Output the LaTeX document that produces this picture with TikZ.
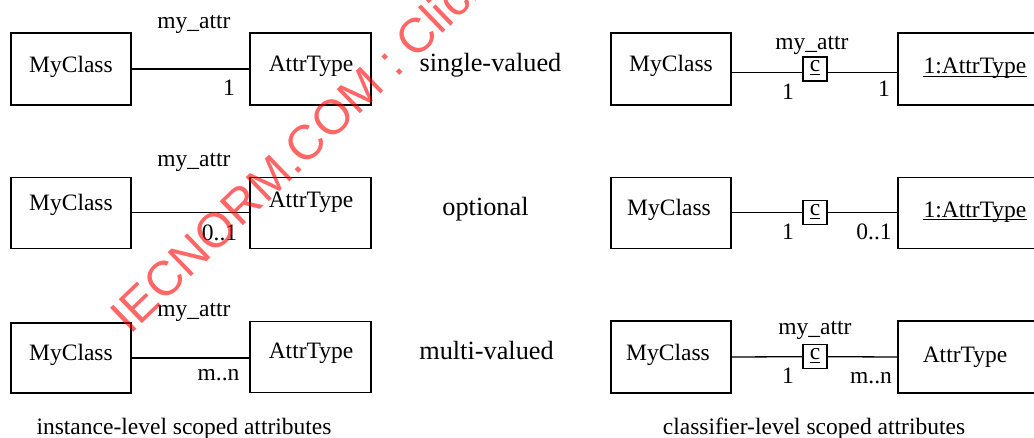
\documentclass[tikz,border=0pt]{standalone}
\usepackage{fontspec}
\setmainfont{Liberation Serif}
\newfontfamily\wmfont{Liberation Sans}
\begin{document}
\begin{tikzpicture}[x=1pt,y=-1pt,
  box/.style={draw, line width=1.3pt, inner sep=0pt},
  cbox/.style={draw, line width=1.3pt, inner sep=0pt, minimum width=24pt, minimum height=24pt},
  conn/.style={line width=1.3pt},
  lbl/.style={inner sep=0pt, anchor=base, font=\fontsize{23.5}{28}\selectfont},
  big/.style={inner sep=0pt, anchor=base, font=\fontsize{26.3}{31}\selectfont},
  ul/.style={line width=1pt},
  wm/.style={inner sep=0pt, anchor=base west, rotate=44, text=red, opacity=0.6, font=\wmfont\fontsize{48.6}{58}\selectfont}]
\useasboundingbox (0,0) rectangle (1034,438);
\begin{scope}
\clip (0,0) rectangle (1034,438);
% ---------- row 1 ----------
\node[box, minimum width=120pt, minimum height=72pt] (L1) at (71,69) {};
\node[box, minimum width=121pt, minimum height=72pt] (A1) at (310.5,69) {};
\node[box, minimum width=120pt, minimum height=72pt] (RM1) at (671,69) {};
\node[box, minimum width=154pt, minimum height=72pt] (RA1) at (975,69) {};
\node[cbox] (c1) at (815,69) {};
\coordinate (j1) at (815,72.7);
\draw[conn] (L1.east) -- (A1.west);
\draw[conn] (RM1.east |- j1) -- (c1.west |- j1);
\draw[conn] (c1.east |- j1) -- (RA1.west |- j1);
\node[lbl] (tL1) at (71,73) {MyClass};
\node[lbl] (tA1) at (311,72) {AttrType};
\node[lbl] (ma1) at (194,28.3) {my\_attr};
\node[lbl] (m1) at (229,96) {1};
\node[big] (sv) at (490.5,71.7) {single-valued};
\node[lbl] (tRM1) at (671,72) {MyClass};
\node[lbl] (mr1) at (812,49.3) {my\_attr};
\node[lbl] (tc1) at (815,72) {c};
\draw[ul] ([yshift=-2.5pt]tc1.base west) -- ([yshift=-2.5pt]tc1.base east);
\node[lbl] (ra1) at (788,99.3) {1};
\node[lbl] (rb1) at (884,96.7) {1};
\node[lbl] (tRA1) at (975,74) {1:AttrType};
\draw[ul] ([yshift=-2.5pt]tRA1.base west) -- ([yshift=-2.5pt]tRA1.base east);
% ---------- row 2 ----------
\node[box, minimum width=120pt, minimum height=71pt] (L2) at (71,212.7) {};
\node[box, minimum width=121pt, minimum height=71pt] (A2) at (310.5,212.7) {};
\node[box, minimum width=120pt, minimum height=71pt] (RM2) at (671,212.7) {};
\node[box, minimum width=154pt, minimum height=71pt] (RA2) at (975,212.7) {};
\node[cbox] (c2) at (815,212.7) {};
\draw[conn] (L2.east) -- (A2.west);
\draw[conn] (RM2.east) -- (c2.west);
\draw[conn] (c2.east) -- (RA2.west);
\node[lbl] (tL2) at (71,211) {MyClass};
\node[lbl] (tA2) at (311,207.7) {AttrType};
\node[lbl] (ma2) at (194,166.7) {my\_attr};
\node[lbl] (m2) at (219.5,240.7) {0..1};
\node[big] (op) at (485.5,215.7) {optional};
\node[lbl] (tRM2) at (669,215.7) {MyClass};
\node[lbl] (tc2) at (815,216) {c};
\draw[ul] ([yshift=-2.5pt]tc2.base west) -- ([yshift=-2.5pt]tc2.base east);
\node[lbl] (ra2) at (788,240) {1};
\node[lbl] (rb2) at (874,240) {0..1};
\node[lbl] (tRA2) at (975,217.3) {1:AttrType};
\draw[ul] ([yshift=-2.5pt]tRA2.base west) -- ([yshift=-2.5pt]tRA2.base east);
% ---------- row 3 ----------
\node[box, minimum width=120pt, minimum height=70pt] (L3) at (71,358) {};
\node[box, minimum width=121pt, minimum height=71pt] (A3) at (310.5,357) {};
\node[box, minimum width=120pt, minimum height=72pt] (RM3) at (671,357) {};
\node[box, minimum width=154pt, minimum height=72pt] (RA3) at (975,357) {};
\node[cbox] (c3) at (815,356.7) {};
\draw[conn] (L3.east) -- (L3.east -| A3.west);
\draw[conn] (RM3.east) -- (c3.west);
\draw[conn] (c3.east) -- (RA3.west);
\node[lbl] (tL3) at (71,360.7) {MyClass};
\node[lbl] (tA3) at (311,359) {AttrType};
\node[lbl] (ma3) at (194,316.7) {my\_attr};
\node[lbl] (m3) at (218.5,381) {m..n};
\node[big] (mv) at (486.5,360) {multi-valued};
\node[lbl] (tRM3) at (668,360.7) {MyClass};
\node[lbl] (mr3) at (815,335) {my\_attr};
\node[lbl] (tc3) at (815,360) {c};
\draw[ul] ([yshift=-2.5pt]tc3.base west) -- ([yshift=-2.5pt]tc3.base east);
\node[lbl] (ra3) at (788,384) {1};
\node[lbl] (rb3) at (871,384) {m..n};
\node[lbl] (tRA3) at (965,362.3) {AttrType};
% ---------- captions ----------
\node[lbl] (cap1) at (184,435) {instance-level scoped attributes};
\node[lbl] (cap2) at (814,434) {classifier-level scoped attributes};
% ---------- watermark ----------
\node[wm] (wmk) at (130,336) {IECNORM.COM : Click to view the full PDF};
\end{scope}
\end{tikzpicture}
\end{document}
